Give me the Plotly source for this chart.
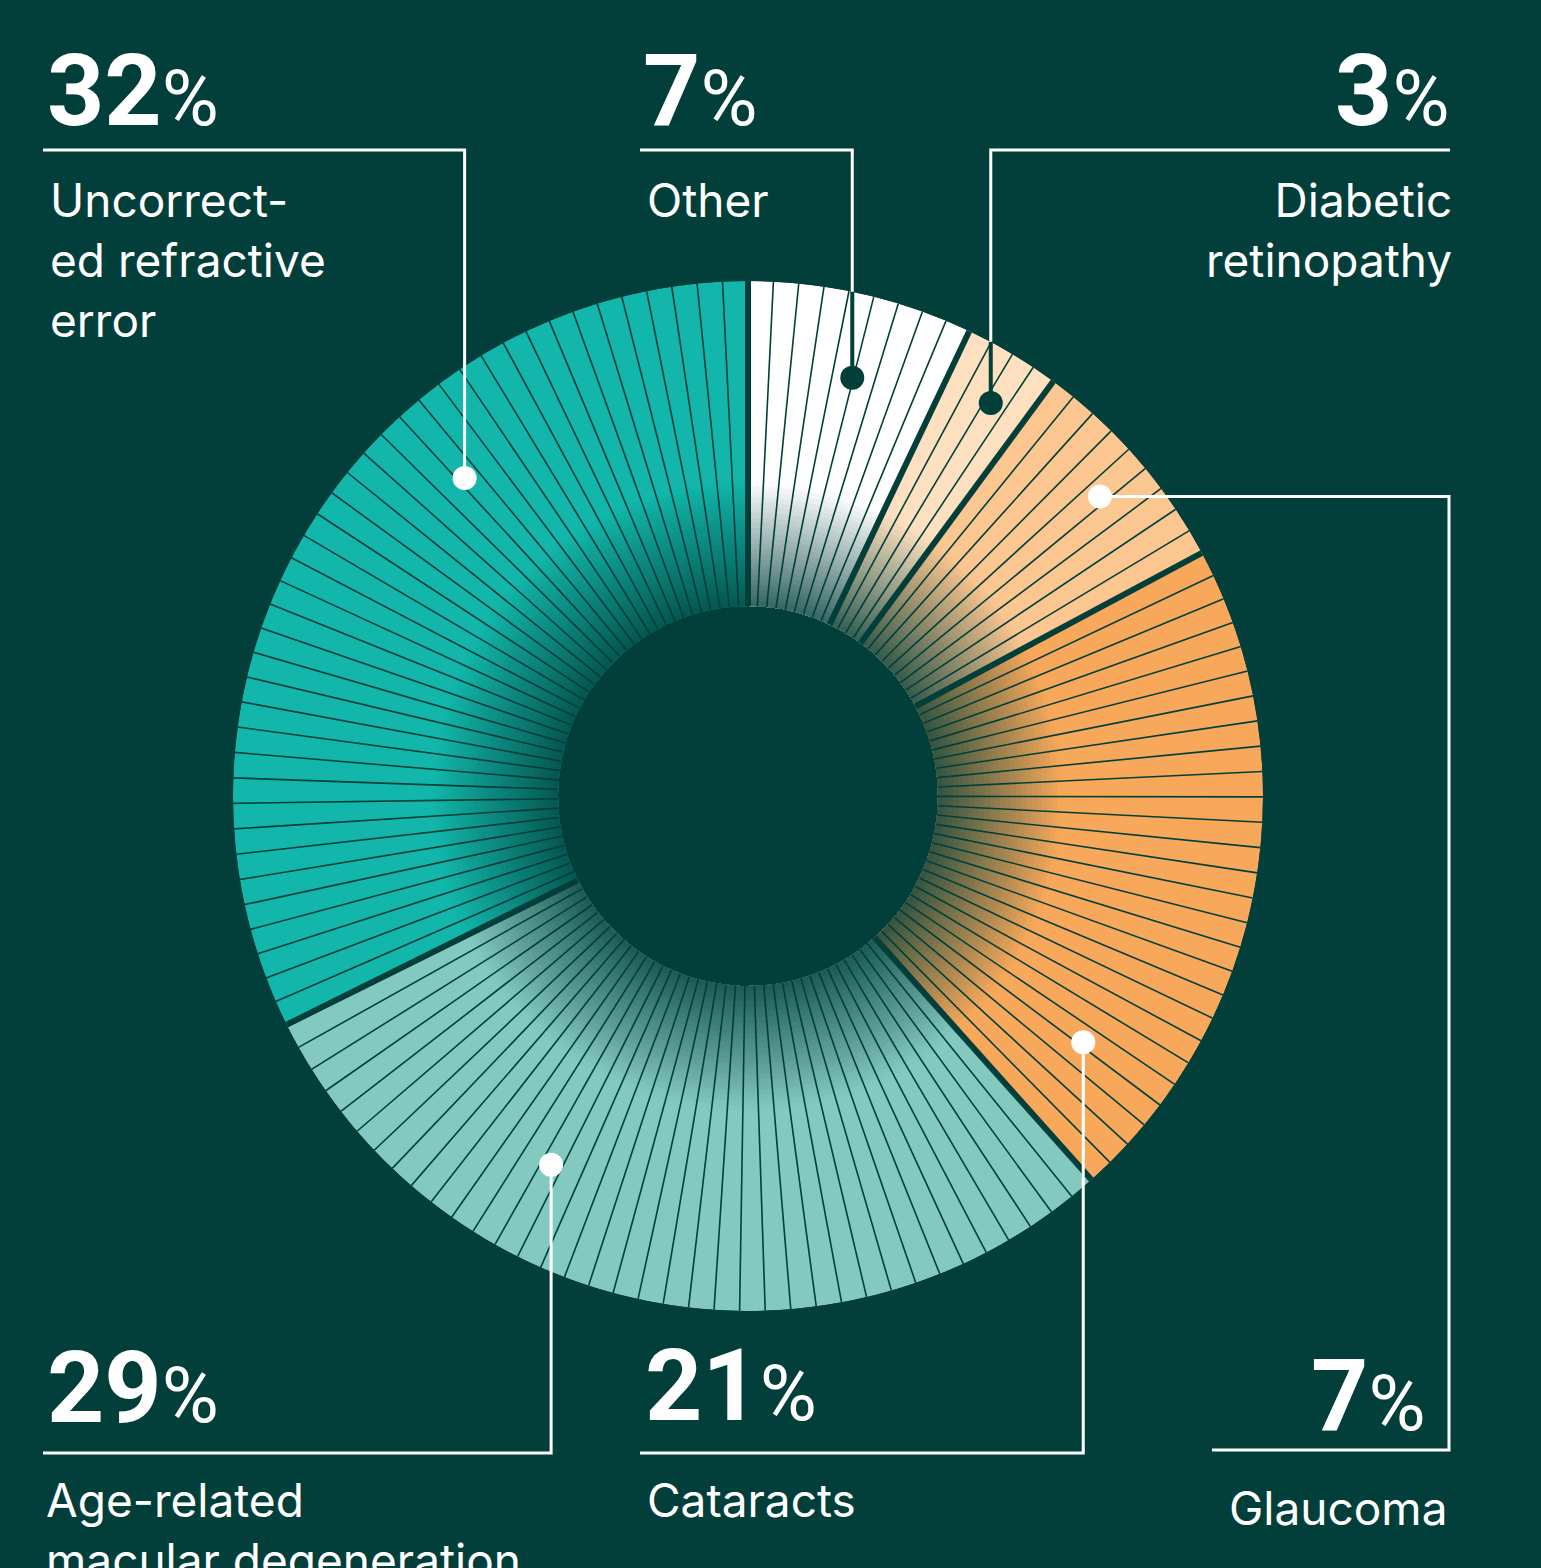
import math
import plotly.graph_objects as go

# ---- data ----
causes = ["Other", "Diabetic retinopathy", "Glaucoma", "Cataracts",
          "Age-related macular degeneration", "Uncorrected refractive error"]
shares = [7, 3, 7, 21, 29, 32]
label_lines = ["Other", "Diabetic<br>retinopathy", "Glaucoma", "Cataracts",
               "Age-related<br>macular degeneration",
               "Uncorrect-<br>ed refractive<br>error"]
colors = ["#ffffff", "#fde0bf", "#fcc690", "#f8a85a", "#84c9c0", "#12b6aa"]

# ---- layout / style ----
W, H = 1541, 1568
BG = "#023f3a"
CX, CY = 748, 796
R_OUT, R_IN, R_FADE = 515, 190, 315
STRIPE_DEG = 2.85
font_num = "Roboto"
font_txt = "Inter"

# dot positions on the ring (r in px, theta in degrees clockwise from top)
dot_r = [431, 462, 462, 416, 418, 426]
dot_theta = [14.0, 31.7, 49.6, 126.3, 208.1, 318.3]
dot_dark = [True, True, False, False, False, False]

# leader rules: far end x, rule y, optional elbow x
rule_far = [640, 1450, 1212, 640, 43, 43]
rule_y = [150, 150, 1450, 1453, 1453, 150]
rule_elbow = [None, None, 1449, None, None, None]

# text placements (px): number x, number top, anchor; label x, label top
num_x = [641, 1452, 1428, 643, 45, 45]
num_top = [30, 30, 1335, 1325, 1327, 30]
lab_x = [645, 1454, 1449, 645, 44, 48]
lab_top = [170, 170, 1478, 1470, 1470, 170]
anchor = ["left", "right", "right", "left", "left", "left"]

total = sum(shares)
deg = [s / total * 360 for s in shares]
start = [sum(deg[:i]) for i in range(len(deg))]
mid = [s + d / 2 for s, d in zip(start, deg)]


def mix(c, t):
    a = [int(c[i:i + 2], 16) for i in (1, 3, 5)]
    b = [int(BG[i:i + 2], 16) for i in (1, 3, 5)]
    return "rgb(%d,%d,%d)" % tuple(round(b[i] + (a[i] - b[i]) * t) for i in range(3))


def to_px(r, theta):
    t = math.radians(theta)
    return CX + r * math.sin(t), CY - r * math.cos(t)


def paper(x, y):
    return x / W, 1 - y / H


fig = go.Figure()

# ring, with a fade towards the hole
n_levels = 24
step = (R_FADE - R_IN) / n_levels
for k in range(n_levels + 1):
    if k == 0:
        outer, t = R_OUT, 1.0
    else:
        outer = R_FADE - (k - 1) * step
        u = (outer - step / 2 - R_IN) / (R_FADE - R_IN)
        t = 0.2 + 0.8 * u
    fig.add_trace(go.Barpolar(
        r=[outer - R_IN] * len(shares),
        base=[R_IN] * len(shares),
        theta=mid,
        width=deg,
        marker=dict(color=[mix(c, t) for c in colors], line=dict(width=0)),
        hoverinfo="skip",
        showlegend=False,
    ))

# thin stripes inside each slice
rs, ts = [], []
for s, d in zip(start, deg):
    n = max(1, round(d / STRIPE_DEG))
    for j in range(1, n):
        rs += [R_IN, R_OUT, None]
        ts += [s + j * d / n] * 2 + [None]
fig.add_trace(go.Scatterpolar(r=rs, theta=ts, mode="lines",
                              line=dict(color=BG, width=1.6),
                              hoverinfo="skip", showlegend=False))

# gaps between slices
rs, ts = [], []
for s in start:
    rs += [R_IN, R_OUT, None]
    ts += [s, s, None]
fig.add_trace(go.Scatterpolar(r=rs, theta=ts, mode="lines",
                              line=dict(color=BG, width=6),
                              hoverinfo="skip", showlegend=False))

# leader dots
fig.add_trace(go.Scatterpolar(
    r=dot_r, theta=dot_theta, mode="markers",
    marker=dict(size=24, color=[BG if d else "white" for d in dot_dark],
                line=dict(width=0)),
    hovertext=causes, hoverinfo="text", showlegend=False))

shapes = []
annotations = []
for i in range(len(causes)):
    dx, dy = to_px(dot_r[i], dot_theta[i])
    if rule_elbow[i] is None:
        pts = [(rule_far[i], rule_y[i]), (dx, rule_y[i])]
        if dot_dark[i]:
            edge_y = CY - math.sqrt(R_OUT ** 2 - (dx - CX) ** 2)
            pts.append((dx, edge_y))
            x0, y0 = paper(dx, edge_y)
            x1, y1 = paper(dx, dy)
            shapes.append(dict(type="line", xref="paper", yref="paper",
                               x0=x0, y0=y0, x1=x1, y1=y1,
                               line=dict(color=BG, width=4), layer="above"))
        else:
            pts.append((dx, dy))
    else:
        pts = [(rule_far[i], rule_y[i]), (rule_elbow[i], rule_y[i]),
               (rule_elbow[i], dy), (dx, dy)]
    path = "M " + " L ".join("%.5f,%.5f" % paper(x, y) for x, y in pts)
    shapes.append(dict(type="path", xref="paper", yref="paper", path=path,
                       line=dict(color="white", width=3), layer="above"))

    x, y = paper(num_x[i], num_top[i])
    annotations.append(dict(
        x=x, y=y, xref="paper", yref="paper", xanchor=anchor[i], yanchor="top",
        showarrow=False, align=anchor[i],
        text="<b>%d</b><span style='font-size:78px'>%%</span>" % shares[i],
        font=dict(family=font_num, size=100, color="white")))
    x, y = paper(lab_x[i], lab_top[i])
    annotations.append(dict(
        x=x, y=y, xref="paper", yref="paper", xanchor=anchor[i], yanchor="top",
        showarrow=False, align=anchor[i], text=label_lines[i],
        font=dict(family=font_txt, size=46, color="white")))

fig.update_layout(
    width=W, height=H,
    margin=dict(l=0, r=0, t=0, b=0),
    paper_bgcolor=BG, plot_bgcolor=BG,
    showlegend=False,
    polar=dict(
        domain=dict(x=[(CX - R_OUT) / W, (CX + R_OUT) / W],
                    y=[(H - CY - R_OUT) / H, (H - CY + R_OUT) / H]),
        bgcolor=BG, bargap=0,
        angularaxis=dict(direction="clockwise", rotation=90, visible=False,
                         showgrid=False),
        radialaxis=dict(range=[0, R_OUT], visible=False, showgrid=False),
    ),
    shapes=shapes,
    annotations=annotations,
)

fig.write_html("out.html",
               config={"displayModeBar": False},
               post_script="document.body.style.margin='0';"
                           "document.body.style.overflow='hidden';")
